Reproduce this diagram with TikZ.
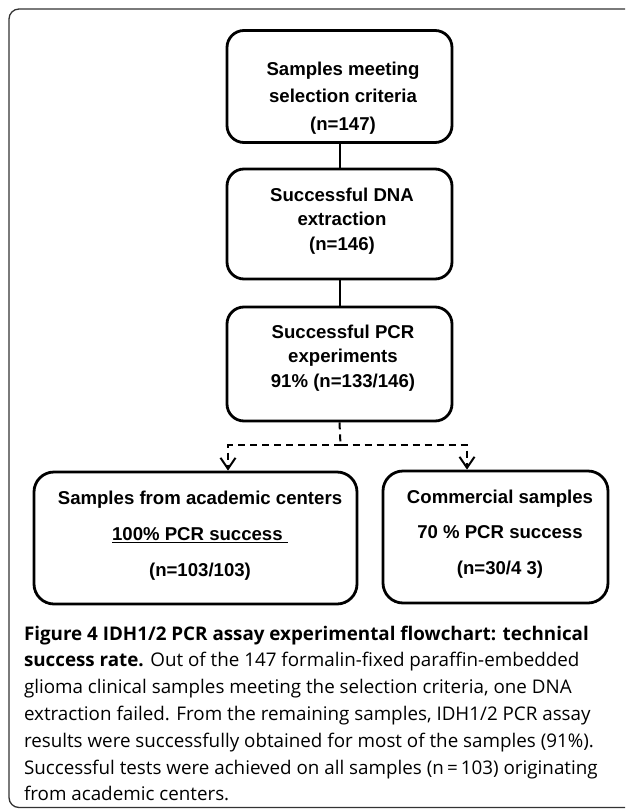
\documentclass[tikz,border=0pt]{standalone}
\usepackage{fontspec}
\setsansfont{Liberation Sans}
\newfontfamily\capfont{Open Sans}
\usetikzlibrary{arrows.meta}

\begin{document}
\begin{tikzpicture}
[x=1pt, y=-1pt, line width=2pt,
box0/.style={rectangle, rounded corners=17pt, draw, line width=2.8pt, inner sep=0pt, minimum width=225pt, minimum height=112pt},
box1/.style={rectangle, rounded corners=20pt, draw, line width=2.8pt, inner sep=0pt, minimum width=225pt, minimum height=132pt},
boxtext/.style={inner sep=0pt, align=center, font=\sffamily\bfseries\fontsize{18.6}{24.5}\selectfont},
link/.style={line width=2pt},
split/.style={line width=2pt, dash pattern=on 7pt off 5pt, -{Straight Barb[length=11pt, width=15pt]}},
captext/.style={inner sep=0pt, anchor=base west, font=\capfont\fontsize{18.8}{20}\selectfont}]

\useasboundingbox (0,0) rectangle (625,809);
\clip (0,0) rectangle (625,809);

% outer frame of the figure
\draw[line width=1.3pt, black!80, rounded corners=10pt] (9,9) rectangle (660,807.5);

\node[box0] (selected) at (339.5,86.5) {};
\node[box0, minimum height=110pt] (extracted) at (339.5,224) {};
\node[box0, minimum height=114pt] (pcr) at (339.5,364) {};
\node[box1, minimum width=323pt] (academic) at (195.5,538) {};
\node[box1] (commercial) at (495.5,537) {};

\node[boxtext, font=\sffamily\bfseries\fontsize{18.6}{27.5}\selectfont] (selected-t) at (343,98) {Samples meeting\\selection criteria\\(n=147)};
\node[boxtext] (extracted-t) at (342,221) {Successful DNA\\extraction\\(n=146)};
\node[boxtext] (pcr-t) at (343,358) {Successful PCR\\experiments\\91\% (n=133/146)};
\node[boxtext, font=\sffamily\bfseries\fontsize{18.6}{36}\selectfont] (academic-t) at (200,536) {Samples from academic centers\\\underline{100\% PCR success\ }\\(n=103/103)};
\node[boxtext, font=\sffamily\bfseries\fontsize{18.6}{35.5}\selectfont] (commercial-t) at (500,534) {Commercial samples\\70 \% PCR success\\(n=30/4 3)};

\draw[link] (selected) -- (extracted);
\draw[link] (extracted) -- (pcr);

\coordinate (fork) at (340.5,445);
\draw[link, dash pattern=on 7pt off 5pt] (pcr.south) -- (fork);
\draw[split] (fork) -| ([xshift=32.5pt]academic.north);
\draw[split] (fork) -| ([xshift=-28.5pt]commercial.north);

% caption, one node per printed line
\foreach \ln [count=\i] in {
  {\textbf{Figure 4 IDH1/2 PCR assay experimental flowchart: technical}},
  {\textbf{success rate.} Out of the 147 formalin-fixed paraffin-embedded},
  {glioma clinical samples meeting the selection criteria, one DNA},
  {extraction failed. From the remaining samples, IDH1/2 PCR assay},
  {results were successfully obtained for most of the samples (91\%).},
  {Successful tests were achieved on all samples (n\,=\,103) originating},
  {from academic centers.}} {
  \node[captext] (cap\i) at (23,{613.2+26.8*\i}) {\ln};
}
\end{tikzpicture}
\end{document}
